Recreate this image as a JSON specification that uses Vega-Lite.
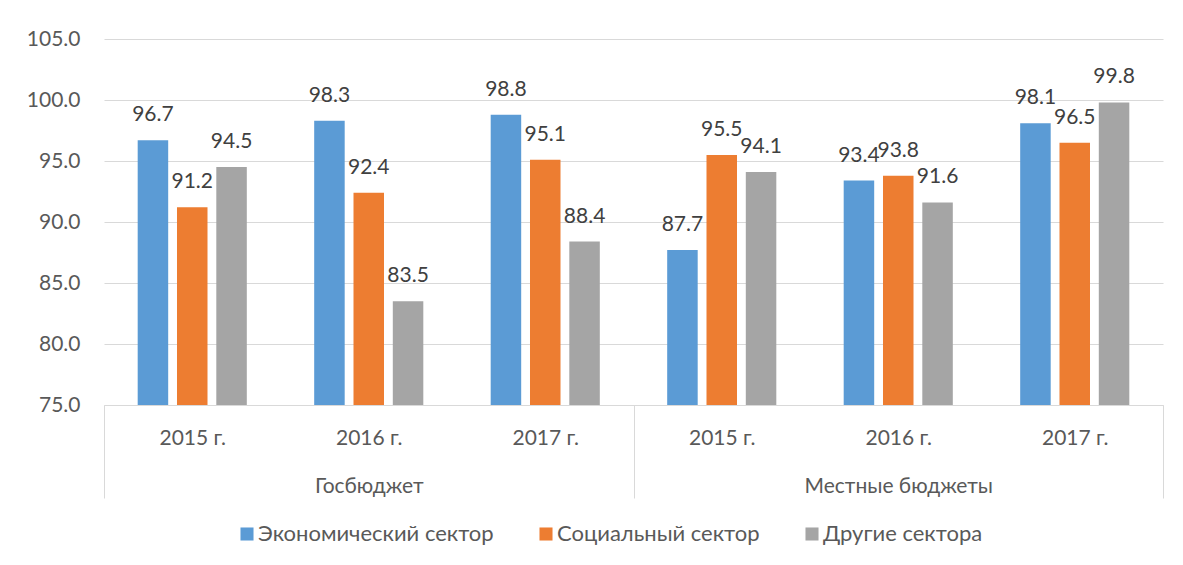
{
  "$schema": "https://vega.github.io/schema/vega-lite/v6.json",
  "autosize": "none",
  "width": 1059,
  "height": 366,
  "padding": {"left": 104, "top": 39, "right": 20, "bottom": 160},
  "background": "white",
  "config": {
    "font": "Lato",
    "view": {"stroke": null},
    "axis": {"labelFont": "Lato", "labelFontSize": 21, "labelColor": "#595959"},
    "legend": {"labelFont": "Lato", "labelFontSize": 22, "labelColor": "#595959"}
  },
  "data": {
    "values": [
      {"key": "Госбюджет|2015 г.", "sector": "Экономический сектор", "value": 96.7},
      {"key": "Госбюджет|2015 г.", "sector": "Социальный сектор", "value": 91.2},
      {"key": "Госбюджет|2015 г.", "sector": "Другие сектора", "value": 94.5},
      {"key": "Госбюджет|2016 г.", "sector": "Экономический сектор", "value": 98.3},
      {"key": "Госбюджет|2016 г.", "sector": "Социальный сектор", "value": 92.4},
      {"key": "Госбюджет|2016 г.", "sector": "Другие сектора", "value": 83.5},
      {"key": "Госбюджет|2017 г.", "sector": "Экономический сектор", "value": 98.8},
      {"key": "Госбюджет|2017 г.", "sector": "Социальный сектор", "value": 95.1},
      {"key": "Госбюджет|2017 г.", "sector": "Другие сектора", "value": 88.4},
      {"key": "Местные бюджеты|2015 г.", "sector": "Экономический сектор", "value": 87.7},
      {"key": "Местные бюджеты|2015 г.", "sector": "Социальный сектор", "value": 95.5},
      {"key": "Местные бюджеты|2015 г.", "sector": "Другие сектора", "value": 94.1},
      {"key": "Местные бюджеты|2016 г.", "sector": "Экономический сектор", "value": 93.4},
      {"key": "Местные бюджеты|2016 г.", "sector": "Социальный сектор", "value": 93.8},
      {"key": "Местные бюджеты|2016 г.", "sector": "Другие сектора", "value": 91.6},
      {"key": "Местные бюджеты|2017 г.", "sector": "Экономический сектор", "value": 98.1},
      {"key": "Местные бюджеты|2017 г.", "sector": "Социальный сектор", "value": 96.5},
      {"key": "Местные бюджеты|2017 г.", "sector": "Другие сектора", "value": 99.8}
    ]
  },
  "encoding": {
    "x": {
      "field": "key",
      "type": "nominal",
      "sort": null,
      "scale": {"paddingInner": 0, "paddingOuter": 0},
      "axis": {
        "title": null,
        "domain": true,
        "domainColor": "#d9d9d9",
        "domainWidth": 1,
        "ticks": true,
        "tickBand": "extent",
        "tickSize": 93,
        "tickColor": "#d9d9d9",
        "tickWidth": 1,
        "tickOpacity": {
          "condition": {"test": "!isString(datum.value) || indexof(datum.value, '2017') >= 0", "value": 1},
          "value": 0
        },
        "labelAngle": 0,
        "labelBaseline": "top",
        "labelPadding": -71,
        "labelLineHeight": 48,
        "labelLimit": 0,
        "labelOverlap": false,
        "labelBound": false,
        "labelExpr": "!isString(datum.value) ? '' : (indexof(datum.value, '2016') >= 0 ? [split(datum.value, '|')[1], split(datum.value, '|')[0]] : split(datum.value, '|')[1])"
      }
    },
    "xOffset": {
      "field": "sector",
      "type": "nominal",
      "sort": ["Экономический сектор", "Социальный сектор", "Другие сектора"],
      "scale": {"paddingInner": 0.224, "paddingOuter": 0.857}
    },
    "y": {
      "field": "value",
      "type": "quantitative",
      "scale": {"domain": [75, 105], "nice": false, "zero": false},
      "axis": {
        "title": null,
        "values": [75, 80, 85, 90, 95, 100, 105],
        "format": ".1f",
        "domain": false,
        "ticks": false,
        "grid": true,
        "gridColor": "#d9d9d9",
        "gridWidth": 1,
        "labelPadding": 24
      }
    }
  },
  "layer": [
    {
      "mark": {"type": "bar"},
      "encoding": {
        "y2": {"datum": 75},
        "color": {
          "field": "sector",
          "type": "nominal",
          "sort": ["Экономический сектор", "Социальный сектор", "Другие сектора"],
          "scale": {
            "domain": ["Экономический сектор", "Социальный сектор", "Другие сектора"],
            "range": ["#5B9BD5", "#ED7D31", "#A5A5A5"]
          },
          "legend": {
            "title": null,
            "orient": "none",
            "legendX": 132,
            "legendY": 484,
            "direction": "horizontal",
            "symbolType": "square",
            "symbolSize": 170,
            "symbolStrokeWidth": 0,
            "labelOffset": 0,
            "columnPadding": 41,
            "labelLimit": 0
          }
        }
      }
    },
    {
      "mark": {"type": "text", "baseline": "middle", "dy": -25, "fontSize": 21, "font": "Lato", "color": "#404040"},
      "encoding": {
        "text": {"field": "value", "type": "quantitative", "format": ".1f"}
      }
    }
  ]
}
